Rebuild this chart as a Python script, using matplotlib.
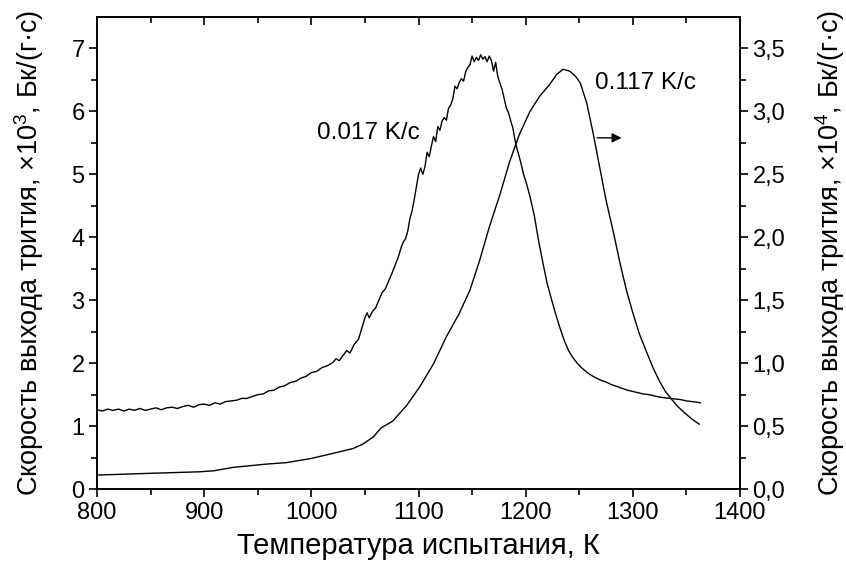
import matplotlib
matplotlib.use("Agg")
import matplotlib.pyplot as plt

plt.rcParams['font.family'] = ['Liberation Sans', 'DejaVu Sans']
plt.rcParams['mathtext.fontset'] = 'custom'
plt.rcParams['mathtext.rm'] = 'Liberation Sans'
plt.rcParams['mathtext.it'] = 'Liberation Sans:italic'

# скорость нагрева 0.017 K/c (левая ось, x10^3 Бк/(г·с))
t_slow = [800, 805, 810, 815, 820, 825, 830, 835, 840, 845, 850, 855, 860, 865, 870,
          875, 880, 885, 890, 895, 900, 905, 910, 915, 920, 925, 930, 935, 940, 945,
          950, 955, 960, 965, 970, 975, 980, 985, 990, 995, 1000, 1005, 1010, 1015, 1020,
          1023, 1026, 1030, 1033, 1036, 1040, 1044, 1047, 1050, 1052, 1054, 1057, 1060, 1063, 1066,
          1069, 1072, 1075, 1078, 1081, 1084, 1086, 1088, 1090, 1092, 1094, 1096, 1098, 1100, 1102,
          1104, 1106, 1108, 1110, 1112, 1114, 1116, 1118, 1120, 1122, 1124, 1126, 1128, 1130, 1132,
          1134, 1136, 1138, 1140, 1142, 1144, 1146, 1148, 1150, 1152, 1154, 1156, 1158, 1160, 1162,
          1164, 1166, 1168, 1170, 1172, 1174, 1176, 1178, 1180, 1182, 1184, 1186, 1188, 1190, 1192,
          1194, 1196, 1198, 1200, 1204, 1208, 1212, 1216, 1220, 1224, 1228, 1232, 1236, 1240, 1244,
          1248, 1252, 1256, 1260, 1265, 1270, 1275, 1280, 1285, 1290, 1295, 1300, 1305, 1310, 1315,
          1320, 1325, 1330, 1335, 1340, 1345, 1350, 1355, 1360, 1363]
rate_slow = [1.26, 1.24, 1.27, 1.25, 1.27, 1.24, 1.27, 1.25, 1.28, 1.25, 1.27, 1.29, 1.26, 1.29, 1.30,
             1.28, 1.31, 1.33, 1.30, 1.34, 1.35, 1.33, 1.37, 1.35, 1.39, 1.40, 1.41, 1.44, 1.44, 1.47,
             1.50, 1.51, 1.56, 1.57, 1.62, 1.64, 1.69, 1.71, 1.76, 1.79, 1.85, 1.87, 1.93, 1.96, 2.01,
             2.07, 2.04, 2.13, 2.20, 2.16, 2.30, 2.38, 2.55, 2.72, 2.80, 2.72, 2.82, 2.88, 3.00, 3.12,
             3.18, 3.30, 3.42, 3.55, 3.68, 3.85, 3.93, 3.98, 4.10, 4.30, 4.42, 4.60, 4.80, 5.00, 5.10,
             5.00, 5.12, 5.35, 5.28, 5.45, 5.60, 5.52, 5.76, 5.70, 5.85, 5.90, 5.86, 6.05, 6.10, 6.20,
             6.40, 6.36, 6.46, 6.52, 6.48, 6.63, 6.70, 6.74, 6.88, 6.79, 6.86, 6.81, 6.90, 6.83, 6.87,
             6.79, 6.88, 6.81, 6.64, 6.78, 6.55, 6.45, 6.35, 6.20, 6.05, 5.98, 5.85, 5.74, 5.55, 5.40,
             5.28, 5.15, 5.00, 4.90, 4.65, 4.35, 3.95, 3.60, 3.27, 3.02, 2.78, 2.56, 2.36, 2.20, 2.09,
             2.00, 1.93, 1.87, 1.82, 1.77, 1.73, 1.70, 1.66, 1.63, 1.60, 1.57, 1.55, 1.53, 1.51, 1.50,
             1.48, 1.46, 1.45, 1.44, 1.43, 1.42, 1.40, 1.39, 1.38, 1.37]

# скорость нагрева 0.117 K/c (правая ось, x10^4 Бк/(г·с))
t_fast = [800, 850, 896, 909, 927, 958, 977, 1000, 1020, 1039, 1048, 1058, 1065, 1076, 1089,
          1101, 1114, 1126, 1138, 1148, 1157, 1166, 1176, 1185, 1194, 1204, 1213, 1222, 1229, 1235,
          1241, 1247, 1251, 1257, 1263, 1269, 1275, 1282, 1288, 1294, 1300, 1306, 1313, 1319, 1325,
          1330, 1336, 1342, 1349, 1356, 1362]
rate_fast = [0.111, 0.125, 0.137, 0.145, 0.172, 0.198, 0.210, 0.243, 0.283, 0.322, 0.357, 0.415, 0.485, 0.540, 0.665,
             0.810, 0.995, 1.210, 1.395, 1.580, 1.815, 2.080, 2.340, 2.600, 2.815, 3.000, 3.120, 3.210, 3.295, 3.335,
             3.320, 3.275, 3.225, 3.065, 2.825, 2.560, 2.295, 2.035, 1.795, 1.580, 1.400, 1.235, 1.085, 0.960, 0.855,
             0.780, 0.715, 0.655, 0.600, 0.550, 0.515]

fig = plt.figure(figsize=(8.46, 5.81), dpi=100)
ax = fig.add_axes([0.1147, 0.1583, 0.76, 0.8124])
ax2 = ax.twinx()

ax.plot(t_slow, rate_slow, color='black', lw=1.0)
ax2.plot(t_fast, rate_fast, color='black', lw=1.0)

ax.set_xlim(800, 1400)
ax.set_ylim(0, 7.5)
ax2.set_ylim(0, 3.75)
ax.set_xticks([800, 900, 1000, 1100, 1200, 1300, 1400])
ax.set_xticks([850, 950, 1050, 1150, 1250, 1350], minor=True)
ax.set_yticks(range(0, 8))
ax.set_yticks([0.5, 1.5, 2.5, 3.5, 4.5, 5.5, 6.5], minor=True)
ax2.set_yticks([0, 0.5, 1.0, 1.5, 2.0, 2.5, 3.0, 3.5])
ax2.set_yticklabels(['0,0', '0,5', '1,0', '1,5', '2,0', '2,5', '3,0', '3,5'])
ax2.set_yticks([0.25, 0.75, 1.25, 1.75, 2.25, 2.75, 3.25], minor=True)

for a in (ax, ax2):
    for s in a.spines.values():
        s.set_linewidth(1.2)
    a.tick_params(which='major', length=6, width=1.2, labelsize=17, direction='out', pad=3)
    a.tick_params(which='minor', length=4, width=1.2, direction='out')

top = ax.secondary_xaxis('top')
top.set_xticks([800, 900, 1000, 1100, 1200, 1300, 1400])
top.set_xticks([850, 950, 1050, 1150, 1250, 1350], minor=True)
top.tick_params(which='major', length=6, width=1.2, direction='in', labeltop=False)
top.tick_params(which='minor', length=4, width=1.2, direction='in')
top.spines['top'].set_linewidth(1.2)

ax.set_xlabel('Температура испытания, К', fontsize=21, labelpad=6)
ax.set_ylabel('Скорость выхода трития, $\\times$10$^3$, Бк/(г·с)', fontsize=19.5, labelpad=18)
ax2.set_ylabel('Скорость выхода трития, $\\times$10$^4$, Бк/(г·с)', fontsize=19.5, labelpad=20)

ax.text(1053, 5.65, '0.017 K/c', fontsize=17.5, ha='center', va='center')
ax.text(1312, 6.45, '0.117 K/c', fontsize=17.5, ha='center', va='center')
ax.annotate('', xy=(1292, 5.58), xytext=(1264, 5.58),
            arrowprops=dict(arrowstyle='-|>', color='black', lw=1.0, mutation_scale=14))

fig.savefig('out.png', dpi=100)
